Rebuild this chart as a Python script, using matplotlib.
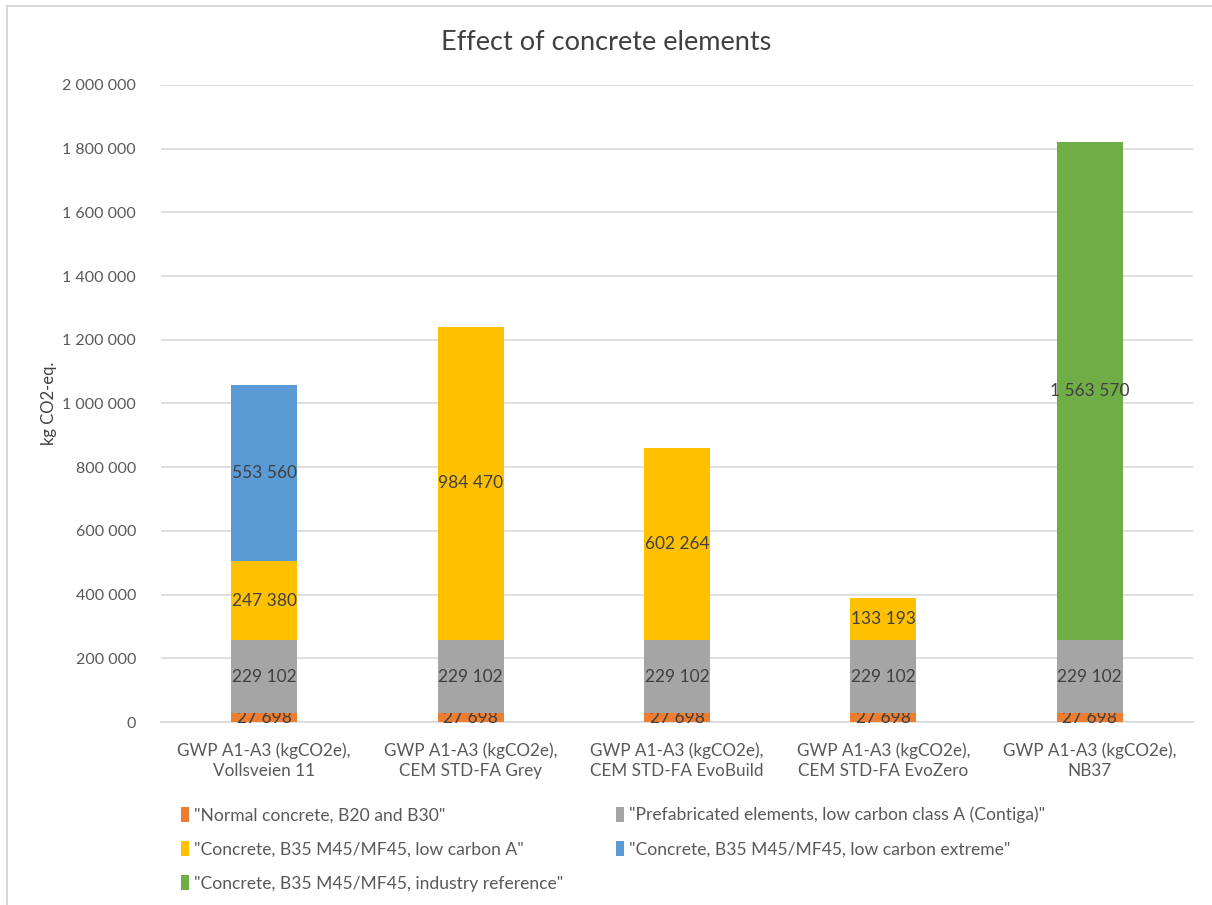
import matplotlib.pyplot as plt
from matplotlib.lines import Line2D
from matplotlib.patches import Patch

plt.rcParams['font.family'] = ['Lato', 'DejaVu Sans']

# data
categories = [
    "GWP A1-A3 (kgCO2e),\nVollsveien 11",
    "GWP A1-A3 (kgCO2e),\nCEM STD-FA Grey",
    "GWP A1-A3 (kgCO2e),\nCEM STD-FA EvoBuild",
    "GWP A1-A3 (kgCO2e),\nCEM STD-FA EvoZero",
    "GWP A1-A3 (kgCO2e),\nNB37",
]
series_names = [
    '"Normal concrete, B20 and B30"',
    '"Prefabricated elements, low carbon class A (Contiga)"',
    '"Concrete, B35 M45/MF45, low carbon A"',
    '"Concrete, B35 M45/MF45, low carbon extreme"',
    '"Concrete, B35 M45/MF45, industry reference"',
]
normal = [27698, 27698, 27698, 27698, 27698]
prefab = [229102, 229102, 229102, 229102, 229102]
low_a = [247380, 984470, 602264, 133193, 0]
low_extreme = [553560, 0, 0, 0, 0]
industry = [0, 0, 0, 0, 1563570]
series = [normal, prefab, low_a, low_extreme, industry]

colors = ["#ED7D31", "#A5A5A5", "#FFC000", "#5B9BD5", "#70AD47"]
TEXT = "#595959"
GRID = "#D9D9D9"


def fmt(v):
    return f"{v:,.0f}".replace(",", " ")


fig = plt.figure(figsize=(12.12, 9.05), dpi=100)
ax = fig.add_axes([161 / 1212, 1 - 722 / 905, 1032 / 1212, 637 / 905])

x = range(len(categories))
bottom = [0] * len(categories)
handles = []
for name, vals, c in zip(series_names, series, colors):
    bars = ax.bar(x, vals, bottom=bottom, width=0.32, color=c, label=name, zorder=3)
    ax.bar_label(bars, labels=[fmt(v) if v else "" for v in vals],
                 label_type="center", color="#404040", fontsize=12.5)
    bottom = [b + v for b, v in zip(bottom, vals)]
    handles.append(Patch(facecolor=c, edgecolor="none"))

ax.set_xlim(-0.5, len(categories) - 0.5)
ax.set_ylim(0, 2000000)
ax.set_yticks(range(0, 2000001, 200000))
ax.set_yticklabels([fmt(v) for v in range(0, 2000001, 200000)])
ax.set_xticks(list(x))
ax.set_xticklabels(categories, fontsize=12.3, linespacing=1.3)
ax.tick_params(axis="both", length=0, colors=TEXT)
ax.tick_params(axis="y", pad=18, labelsize=11.5)
ax.tick_params(axis="x", pad=15)
ax.grid(axis="y", color=GRID, linewidth=1.2, zorder=0)
for s in ["top", "right", "left"]:
    ax.spines[s].set_visible(False)
ax.spines["bottom"].set_color(GRID)
ax.spines["bottom"].set_linewidth(1.2)
ax.set_ylabel("kg CO2-eq.", color="#404040", fontsize=12, labelpad=4)

fig.suptitle("Effect of concrete elements", y=1 - 43 / 905, va="center",
             fontsize=19.5, color="#404040")

order = [0, 2, 4, 1, 3]
fig.legend([handles[i] for i in order], [series_names[i] for i in order],
           ncol=2, loc="upper left", bbox_to_anchor=(165 / 1212, 1 - 791 / 905),
           frameon=False, fontsize=12.6, labelcolor=TEXT,
           handlelength=0.45, handleheight=0.9, handletextpad=0.3,
           columnspacing=3.0, labelspacing=1.02)

# outer chart border (partially visible)
fig.add_artist(Line2D([7 / 1212, 7 / 1212], [0, 1 - 6 / 905], color=GRID, linewidth=1.5))
fig.add_artist(Line2D([7 / 1212, 1], [1 - 6 / 905, 1 - 6 / 905], color=GRID, linewidth=1.5))

fig.savefig("out.png", dpi=100)
